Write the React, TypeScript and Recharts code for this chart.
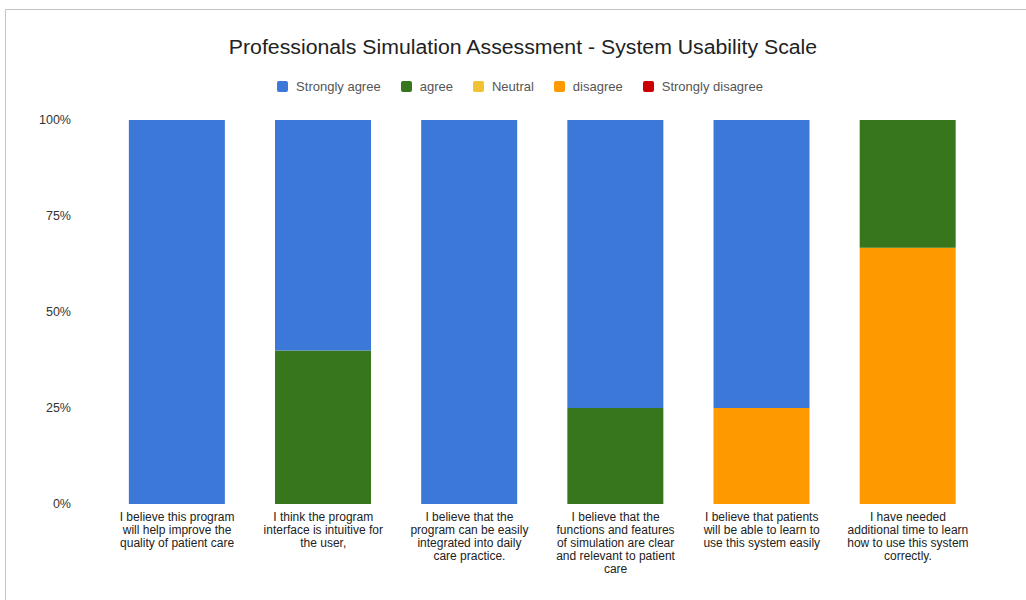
import React from "react";
import { BarChart, Bar, XAxis, YAxis } from "recharts";

const categories = [
  "I believe this program\nwill help improve the\nquality of patient care",
  "I think the program\ninterface is intuitive for\nthe user,",
  "I believe that the\nprogram can be easily\nintegrated into daily\ncare practice.",
  "I believe that the\nfunctions and features\nof simulation are clear\nand relevant to patient\ncare",
  "I believe that patients\nwill be able to learn to\nuse this system easily",
  "I have needed\nadditional time to learn\nhow to use this system\ncorrectly.",
];

const stronglyAgree = [100, 60, 100, 75, 75, 0];
const agree = [0, 40, 0, 25, 0, 33.3];
const neutral = [0, 0, 0, 0, 0, 0];
const disagree = [0, 0, 0, 0, 25, 66.7];
const stronglyDisagree = [0, 0, 0, 0, 0, 0];

const yTicks = [0, 25, 50, 75, 100];

const seriesNames = ["Strongly agree", "agree", "Neutral", "disagree", "Strongly disagree"];
const seriesKeys = ["sa", "a", "n", "d", "sd"];
const seriesColors = ["#3c78d8", "#38761d", "#f1c232", "#ff9900", "#cc0000"];

const data = categories.map((c, i) => ({
  name: c,
  sa: stronglyAgree[i],
  a: agree[i],
  n: neutral[i],
  d: disagree[i],
  sd: stronglyDisagree[i],
}));

const FONT = "'Liberation Sans', Arial, sans-serif";

const CategoryTick = (props: any) => {
  const { x, y, payload } = props;
  const lines = String(payload.value).split("\n");
  return (
    <g>
      {lines.map((l: string, i: number) => (
        <text key={i} x={x} y={y + 9 + i * 13} textAnchor="middle" fontSize={12} fill="#222" fontFamily={FONT}>
          {l}
        </text>
      ))}
    </g>
  );
};

export default function App() {
  const order = [4, 3, 2, 1, 0];
  return (
    <div style={{ position: "absolute", left: 0, top: 0, width: 1026, height: 600, background: "#fff", overflow: "hidden" }}>
      <div style={{ position: "absolute", left: 5, top: 9, width: 1100, height: 700, borderTop: "1px solid #c4c4c4", borderLeft: "1px solid #c4c4c4" }} />
      <div style={{ position: "absolute", left: 0, top: 36, width: 1046, textAlign: "center", fontFamily: FONT, fontSize: 19.5, color: "#222", transform: "scaleX(1.09)", transformOrigin: "523px 0" }}>
        Professionals Simulation Assessment - System Usability Scale
      </div>
      <div style={{ position: "absolute", left: 0, top: 79, width: 1040, display: "flex", justifyContent: "center", alignItems: "center", fontFamily: FONT, fontSize: 13, color: "#555" }}>
        {seriesNames.map((n, i) => (
          <div key={n} style={{ display: "flex", alignItems: "center", marginRight: i < seriesNames.length - 1 ? 20 : 0 }}>
            <span style={{ display: "inline-block", width: 11, height: 11, borderRadius: 2, background: seriesColors[i], marginRight: 8 }} />
            <span>{n}</span>
          </div>
        ))}
      </div>
      <div style={{ position: "absolute", left: 0, top: 0 }}>
        <BarChart width={1026} height={600} data={data} margin={{ top: 120, right: 45, left: 0, bottom: 0 }} barCategoryGap="17%">
          <XAxis dataKey="name" axisLine={false} tickLine={false} interval={0} tick={<CategoryTick />} height={96} />
          <YAxis
            width={104}
            domain={[0, 100]}
            ticks={yTicks}
            tickFormatter={(v: number) => `${v}%`}
            axisLine={false}
            tickLine={false}
            tickSize={0}
            tickMargin={33}
            tick={{ fontSize: 12.5, fill: "#333", fontFamily: FONT }}
          />
          {order.map((i) => (
            <Bar key={seriesKeys[i]} dataKey={seriesKeys[i]} name={seriesNames[i]} stackId="s" fill={seriesColors[i]} isAnimationActive={false} />
          ))}
        </BarChart>
      </div>
    </div>
  );
}
